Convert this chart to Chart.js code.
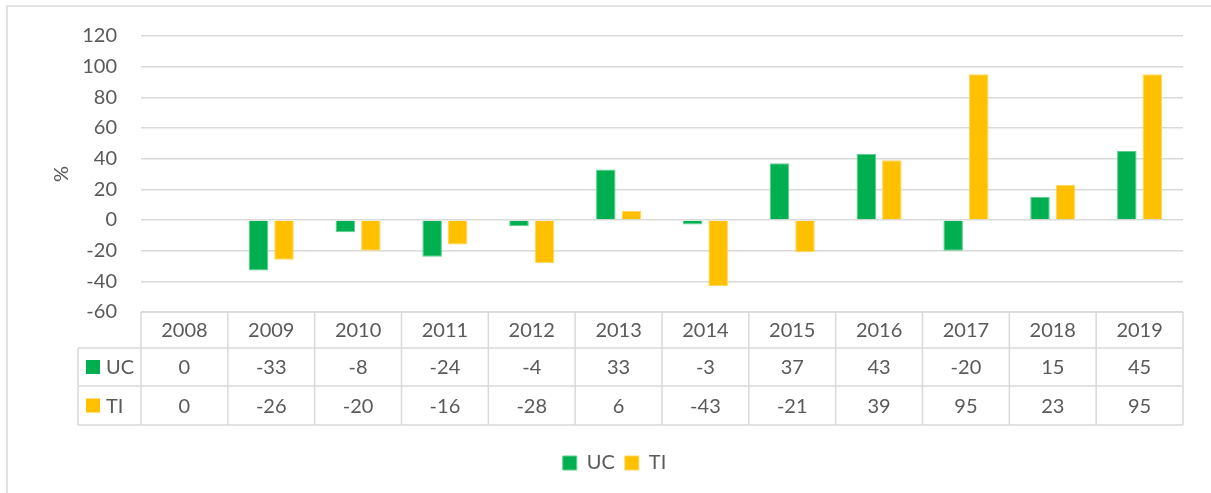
<!DOCTYPE html>
<html>
<head>
<meta charset="utf-8">
<script src="https://cdn.jsdelivr.net/npm/chart.js@4/dist/chart.umd.min.js"></script>
<style>
  html, body { margin: 0; padding: 0; background: #fff; overflow: hidden; }
  #wrap { position: relative; width: 1211px; height: 493px; }
</style>
</head>
<body>
<div id="wrap"><canvas id="chart" width="1211" height="493"></canvas></div>
<script>
const years = ['2008', '2009', '2010', '2011', '2012', '2013', '2014', '2015', '2016', '2017', '2018', '2019'];
const ucValues = [0, -33, -8, -24, -4, 33, -3, 37, 43, -20, 15, 45];
const tiValues = [0, -26, -20, -16, -28, 6, -43, -21, 39, 95, 23, 95];

const FONT = 'Lato, "Open Sans", sans-serif';
const TEXT = '#595959';
const LINE = '#d9d9d9';

// data table under the plot, columns follow the x scale
const dataTable = {
    id: 'dataTable',
    beforeDraw(chart) {
        const ctx = chart.ctx;
        ctx.save();
        ctx.strokeStyle = LINE;
        ctx.lineWidth = 1.5;
        ctx.beginPath();
        ctx.moveTo(7, 493); ctx.lineTo(7, 6); ctx.lineTo(1211, 6);
        ctx.stroke();
        ctx.restore();
    },
    afterDraw(chart) {
        const ctx = chart.ctx;
        const xs = chart.scales.x;
        const area = chart.chartArea;
        const colW = (xs.right - xs.left) / years.length;
        const top = area.bottom;
        const rowH = [36, 38, 39];
        const y1 = top + rowH[0], y2 = y1 + rowH[1], y3 = y2 + rowH[2];
        const headL = 78;
        ctx.save();
        ctx.strokeStyle = LINE;
        ctx.lineWidth = 1.5;
        ctx.beginPath();
        ctx.moveTo(xs.left, top); ctx.lineTo(xs.right, top);
        [y1, y2, y3].forEach(y => { ctx.moveTo(headL, y); ctx.lineTo(xs.right, y); });
        ctx.moveTo(headL, y1); ctx.lineTo(headL, y3);
        for (let i = 0; i <= years.length; i++) {
            const x = xs.left + i * colW;
            ctx.moveTo(x, top); ctx.lineTo(x, y3);
        }
        ctx.stroke();

        ctx.fillStyle = TEXT;
        ctx.font = '20px ' + FONT;
        ctx.textAlign = 'center';
        ctx.textBaseline = 'middle';
        const rows = [[years, (top + y1) / 2], [ucValues, (y1 + y2) / 2], [tiValues, (y2 + y3) / 2]];
        rows.forEach(([vals, cy]) => {
            vals.forEach((v, i) => ctx.fillText(String(v), xs.getPixelForValue(i), cy + 1));
        });

        const heads = [['UC', '#00b050', (y1 + y2) / 2], ['TI', '#ffc000', (y2 + y3) / 2]];
        ctx.textAlign = 'left';
        heads.forEach(([name, col, cy]) => {
            ctx.fillStyle = col;
            ctx.fillRect(86, cy - 7, 14, 14);
            ctx.fillStyle = TEXT;
            ctx.fillText(name, 106, cy + 1);
        });
        ctx.restore();
    }
};

new Chart(document.getElementById('chart'), {
    type: 'bar',
    data: {
        labels: years,
        datasets: [
            {
                label: 'UC',
                data: ucValues,
                backgroundColor: '#00b050',
                borderColor: '#5ccf8e',
                borderWidth: 1,
                categoryPercentage: 0.588,
                barPercentage: 0.765
            },
            {
                label: 'TI',
                data: tiValues,
                backgroundColor: '#ffc000',
                borderColor: '#ffd65c',
                borderWidth: 1,
                categoryPercentage: 0.588,
                barPercentage: 0.765
            }
        ]
    },
    options: {
        responsive: false,
        animation: false,
        layout: { padding: { top: 35, right: 28, bottom: 10, left: 46 } },
        plugins: {
            legend: {
                position: 'bottom',
                labels: {
                    boxWidth: 14,
                    boxHeight: 14,
                    padding: 10,
                    color: TEXT,
                    font: { family: FONT, size: 20 }
                }
            },
            tooltip: { enabled: false }
        },
        scales: {
            x: {
                ticks: { display: false },
                grid: { display: false },
                border: { display: false },
                afterFit: s => { s.height = 131; }
            },
            y: {
                min: -60,
                max: 120,
                ticks: {
                    stepSize: 20,
                    padding: 24,
                    color: TEXT,
                    font: { family: FONT, size: 20 }
                },
                grid: { color: LINE, lineWidth: 1.5, drawTicks: false },
                border: { display: false },
                title: {
                    display: true,
                    text: '%',
                    color: TEXT,
                    padding: { top: 4, bottom: 0 },
                    font: { family: FONT, size: 20 }
                },
                afterFit: s => { s.width = 95; }
            }
        }
    },
    plugins: [dataTable]
});
</script>
</body>
</html>
